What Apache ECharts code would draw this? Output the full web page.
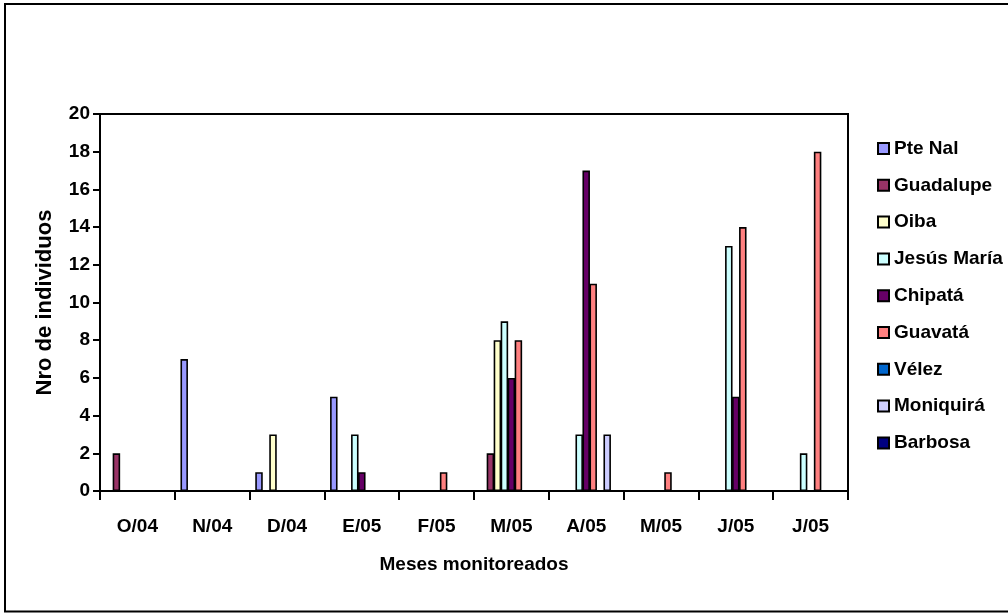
<!DOCTYPE html>
<html>
<head>
<meta charset="utf-8">
<script src="https://cdn.jsdelivr.net/npm/echarts@6/dist/echarts.min.js"></script>
<style>
html,body{margin:0;padding:0;background:#fff;}
#chart{width:1008px;height:614px;}
</style>
</head>
<body>
<div id="chart"></div>
<script>
// Data
var categories = ['O/04','N/04','D/04','E/05','F/05','M/05','A/05','M/05','J/05','J/05'];
var seriesNames = ['Pte Nal','Guadalupe','Oiba','Jesús María','Chipatá','Guavatá','Vélez','Moniquirá','Barbosa'];
var pteNal     = [0,7,1,5,0,0,0,0,0,0];
var guadalupe  = [2,0,0,0,0,2,0,0,0,0];
var oiba       = [0,0,3,0,0,8,0,0,0,0];
var jesusMaria = [0,0,0,3,0,9,3,0,13,2];
var chipata    = [0,0,0,1,0,6,17,0,5,0];
var guavata    = [0,0,0,0,1,8,11,1,14,18];
var velez      = [0,0,0,0,0,0,0,0,0,0];
var moniquira  = [0,0,0,0,0,0,3,0,0,0];
var barbosa    = [0,0,0,0,0,0,0,0,0,0];
var yTicks = {min:0, max:20, interval:2};
var seriesColors = ['#9999FF','#993366','#FFFFCC','#CCFFFF','#660066','#FF8080','#0066CC','#CCCCFF','#000080'];

var allValues = [pteNal,guadalupe,oiba,jesusMaria,chipata,guavata,velez,moniquira,barbosa];
var FONT = '"Liberation Sans", Arial, sans-serif';

var chart = echarts.init(document.getElementById('chart'), null, {renderer:'canvas'});
var series = seriesNames.map(function(name, i){
  return {
    name: name,
    type: 'bar',
    data: allValues[i],
    barWidth: 7.5,
    barGap: '-6.7%',
    itemStyle: {color: seriesColors[i], borderColor:'#000', borderWidth:1.6},
    emphasis: {disabled:true},
    animation: false
  };
});

chart.setOption({
  animation: false,
  backgroundColor: '#fff',
  textStyle: {fontFamily: FONT, color:'#000'},
  grid: {left:100, right:160, top:114, bottom:123, show:true, borderColor:'#000', borderWidth:2, backgroundColor:'transparent'},
  legend: {
    orient: 'vertical',
    left: 872,
    top: 133.5,
    icon: 'rect',
    itemWidth: 11,
    itemHeight: 11,
    itemGap: 16.8,
    data: seriesNames,
    textStyle: {fontFamily: FONT, fontWeight:'bold', fontSize:19, lineHeight:20, color:'#000'},
    selectedMode: false
  },
  xAxis: {
    type: 'category',
    data: categories,
    boundaryGap: true,
    name: 'Meses monitoreados',
    nameLocation: 'middle',
    nameGap: 64,
    nameTextStyle: {fontFamily: FONT, fontWeight:'bold', fontSize:19, color:'#000'},
    axisLine: {show:true, lineStyle:{color:'#000', width:2}},
    axisTick: {show:true, length:9, lineStyle:{color:'#000', width:2}, alignWithLabel:false},
    axisLabel: {fontFamily: FONT, fontWeight:'bold', fontSize:19, color:'#000', margin:26, interval:0},
    splitLine: {show:false}
  },
  yAxis: {
    type: 'value',
    min: yTicks.min, max: yTicks.max, interval: yTicks.interval,
    name: 'Nro de individuos',
    nameLocation: 'middle',
    nameGap: 44,
    nameRotate: 90,
    nameTextStyle: {fontFamily: FONT, fontWeight:'bold', fontSize:22, color:'#000'},
    axisLine: {show:true, lineStyle:{color:'#000', width:2}},
    axisTick: {show:true, length:7, lineStyle:{color:'#000', width:2}},
    axisLabel: {fontFamily: FONT, fontWeight:'bold', fontSize:19, color:'#000', margin:10},
    splitLine: {show:false}
  },
  graphic: [{
    type: 'rect',
    shape: {x:5, y:4, width:1010, height:607.5},
    style: {fill:'none', stroke:'#000', lineWidth:2},
    silent: true,
    z: 100
  }],
  series: series
});
</script>
</body>
</html>
